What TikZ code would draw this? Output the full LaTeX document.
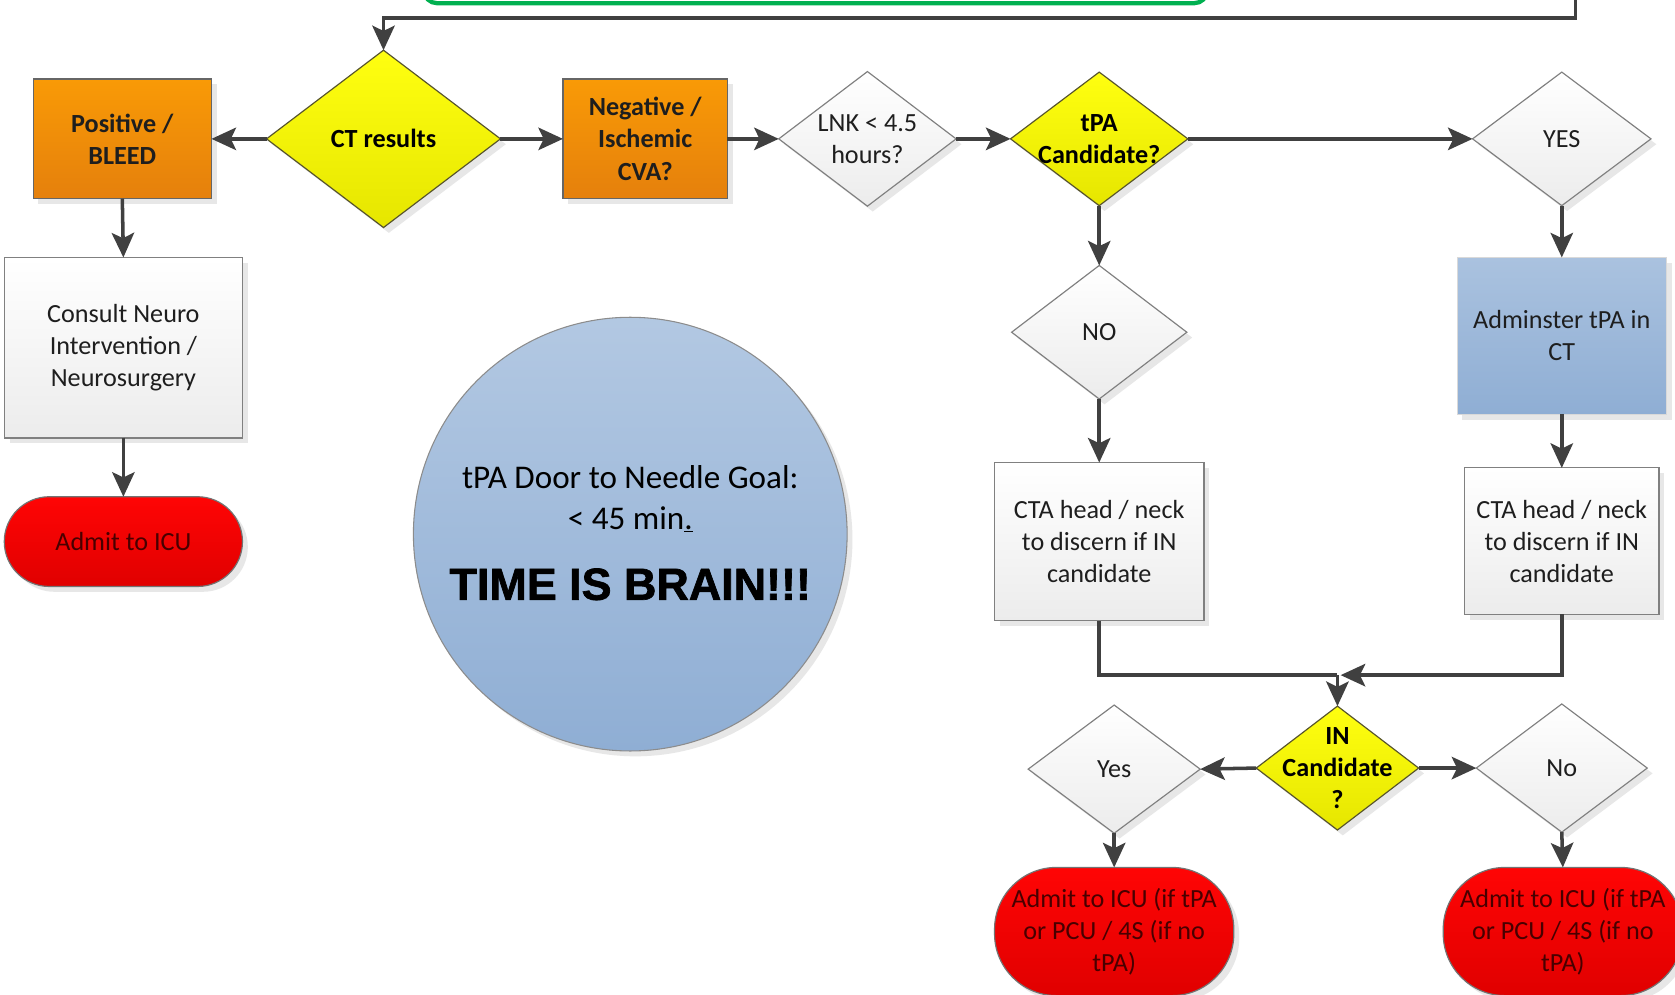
\documentclass[tikz,border=0pt]{standalone}
\usepackage{fontspec}
\setmainfont{Carlito}
\newfontfamily\arialfam[BoldFeatures={FakeBold=1.5}]{Liberation Sans}
\usetikzlibrary{shapes.geometric,arrows.meta,shadows}
\definecolor{cline}{HTML}{404040}
\definecolor{bordg}{HTML}{808080}
\definecolor{txtc}{HTML}{1E1E1E}
\definecolor{orgtop}{HTML}{F99A06}
\definecolor{orgbot}{HTML}{E5800C}
\definecolor{yeltop}{HTML}{FFFF10}
\definecolor{yelbot}{HTML}{E6E600}
\definecolor{whtbot}{HTML}{ECECEC}
\definecolor{blutop}{HTML}{AAC2DF}
\definecolor{blubot}{HTML}{8FAED4}
\definecolor{redtop}{HTML}{FF0505}
\definecolor{redbot}{HTML}{E00000}
\definecolor{redtxt}{HTML}{480000}
\definecolor{grn}{HTML}{00B050}
\newcommand\fsmain{\fontsize{24.5}{30}\selectfont}
\newcommand\fsgoal{\fontsize{31}{38}\selectfont}
\newcommand\fsbrain{\fontsize{42}{48}\selectfont}
\tikzset{
  conn/.style={draw=cline, line width=3.3pt, -{Stealth[length=23pt,width=21pt,inset=5pt]}},
  plainconn/.style={draw=cline, line width=3.3pt},
  shad/.style={drop shadow={shadow xshift=5pt, shadow yshift=-5pt, fill=black!30, opacity=0.3}},
  base/.style={inner sep=0pt, outer sep=0pt, font=\fsmain, align=center, text=txtc},
  boxw/.style={base, rectangle, draw=bordg, line width=1.1pt, top color=white, bottom color=whtbot, shad},
  boxo/.style={base, rectangle, draw=black!60, line width=1.1pt, top color=orgtop, bottom color=orgbot, font=\fsmain\bfseries, shad},
  boxb/.style={base, rectangle, draw=black!15, line width=0.6pt, top color=blutop, bottom color=blubot, shad},
  term/.style={base, rectangle, rounded corners=#1, draw=black!55, line width=1.1pt, top color=redtop, bottom color=redbot, text=redtxt, shad},
  diaw/.style={base, diamond, draw=bordg, line width=1.1pt, top color=white, bottom color=whtbot, shad},
  diay/.style={base, diamond, draw=black!50!olive, line width=1.1pt, top color=yeltop, bottom color=yelbot, shad},
  dtxt/.style={base, fill=none, draw=none},
  dtxtb/.style={base, fill=none, draw=none, font=\fsmain\bfseries, text=black},
}
\begin{document}
\begin{tikzpicture}[x=1pt,y=-1pt]
\useasboundingbox (0,0) rectangle (1568,931);
\fill[white] (0,0) rectangle (1568,931);

% green box (cut off at top)
\node[rectangle, rounded corners=12pt, draw=grn, line width=4pt, fill=white, minimum width=733pt, minimum height=90pt, inner sep=0pt] (gbox) at (763.5,-42) {};

% top row
\node[diay, minimum width=219pt, minimum height=166pt] (ct) at (359,130) {};
\node[dtxtb] (ct-t) at (ct) {CT results};

\node[boxo, minimum width=167pt, minimum height=112pt] (pos) at (114.5,130) {Positive /\\BLEED};
\node[boxo, minimum width=154pt, minimum height=112pt] (neg) at (604,130) {Negative /\\Ischemic\\CVA?};

\node[diaw, minimum width=166pt, minimum height=126pt] (lnk) at (812,130) {};
\node[dtxt] (lnk-t) at (lnk) {LNK < 4.5\\hours?};

\node[diay, minimum width=166pt, minimum height=125pt] (tpa) at (1029,130) {};
\node[dtxtb] (tpa-t) at (tpa) {tPA\\Candidate?};

\node[diaw, minimum width=167pt, minimum height=125pt] (yes) at (1462,130) {};
\node[dtxt] (yes-t) at (yes) {YES};

% left column
\node[boxw, minimum width=223pt, minimum height=169pt] (consult) at (115.5,325.5) {Consult Neuro\\Intervention /\\Neurosurgery};
\node[term=42pt, minimum width=223pt, minimum height=84pt] (admit) at (115.5,507) {Admit to ICU};

% circle
\node[circle, draw=black!45, line width=1pt, top color=blutop!90!white, bottom color=blubot, minimum size=406pt, inner sep=0pt, shad] (goalc) at (590,500) {};
\node[dtxt, font=\fsgoal, text=black] (goal) at (590,467) {tPA Door to Needle Goal:\\< 45 min\underline{.}};
\node[dtxt, font=\fsbrain\arialfam\bfseries, text=black] (brain) at (590,547) {TIME IS BRAIN!!!};

% right part
\node[diaw, minimum width=164pt, minimum height=125pt] (no) at (1029,311) {};
\node[dtxt] (no-t) at (no) {NO};

\node[boxb, minimum width=196pt, minimum height=147pt] (adm) at (1462,314.5) {Adminster tPA in\\CT};

\node[boxw, minimum width=196pt, minimum height=148pt] (ctal) at (1029,507) {CTA head / neck\\to discern if IN\\candidate};
\node[boxw, minimum width=182pt, minimum height=137pt] (ctar) at (1462,506.5) {CTA head / neck\\to discern if IN\\candidate};

\coordinate (join) at (1252,632);

\node[diay, minimum width=152pt, minimum height=116pt] (in) at (1252,719) {};
\node[dtxtb] (in-t) at (in) {IN\\Candidate\\?};

\node[diaw, minimum width=161pt, minimum height=120pt] (yes2) at (1043,720) {};
\node[dtxt] (yes2-t) at (yes2) {Yes};
\node[diaw, minimum width=160pt, minimum height=120pt] (no2) at (1462,719) {};
\node[dtxt] (no2-t) at (no2) {No};

\node[term=58pt, minimum width=224pt, minimum height=120pt] (adml) at (1043,872) {Admit to ICU (if tPA\\or PCU / 4S (if no\\tPA)};
\node[term=58pt, minimum width=224pt, minimum height=120pt] (admr) at (1463,872) {Admit to ICU (if tPA\\or PCU / 4S (if no\\tPA)};

% feedback line
\coordinate (fb) at (1475,-5);
\coordinate (fbturn) at (359,17);
\draw[conn] (fb) |- (fbturn) -- (ct.north);

% connectors
\draw[conn] (ct.west) -- (pos.east);
\draw[conn] (ct.east) -- (neg.west);
\draw[conn] (neg.east) -- (lnk.west);
\draw[conn] (lnk.east) -- (tpa.west);
\draw[conn] (tpa.east) -- (yes.west);
\draw[conn] (pos.south) -- (consult.north);
\draw[conn] (consult.south) -- (admit.north);
\draw[conn] (tpa.south) -- (no.north);
\draw[conn] (no.south) -- (ctal.north);
\draw[conn] (yes.south) -- (adm.north);
\draw[conn] (adm.south) -- (ctar.north);
\draw[plainconn] (ctal.south) |- (join);
\draw[conn] (join) -- (in.north);
\draw[conn] (ctar.south) |- ([xshift=3pt]join);
\draw[conn] (in.west) -- (yes2.east);
\draw[conn] (in.east) -- (no2.west);
\draw[conn] (yes2.south) -- (adml.north);
\draw[conn] (no2.south) -- (admr.north);
\end{tikzpicture}
\end{document}
